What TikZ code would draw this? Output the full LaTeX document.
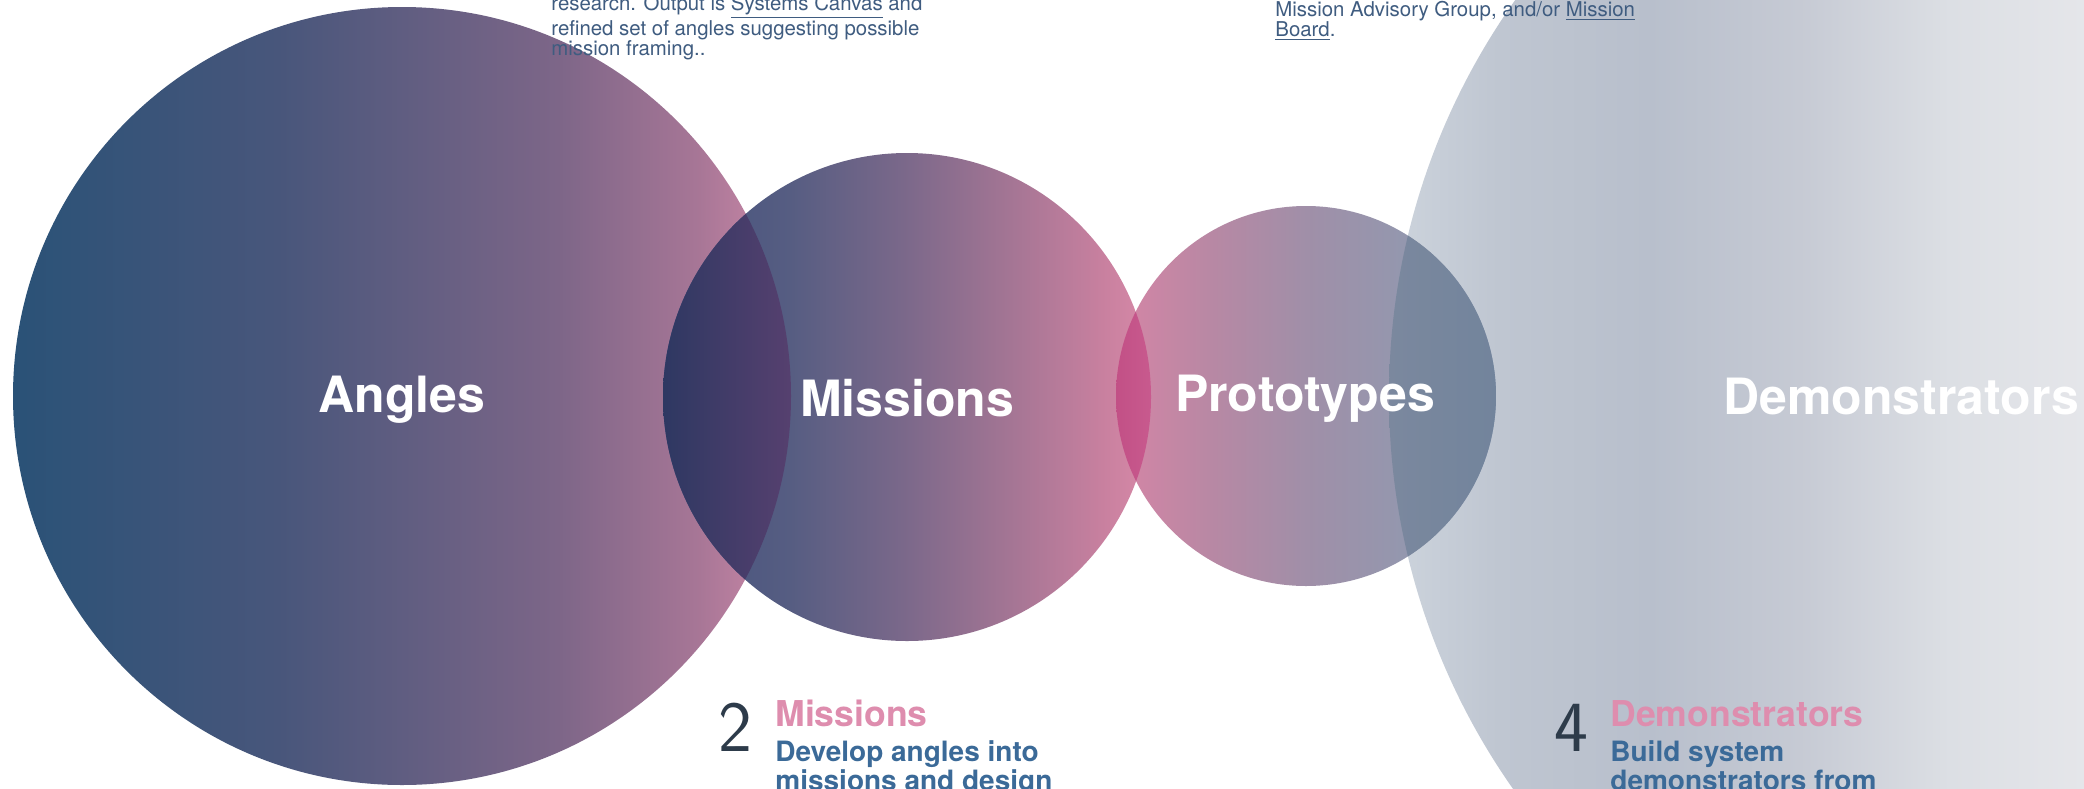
\documentclass[tikz,border=0pt]{standalone}
\usepackage{fontspec}
\setmainfont{TeX Gyre Heros}
\usepackage{tikz}

% colours
\definecolor{inkblue}{HTML}{3F5C80}
\definecolor{headpink}{HTML}{DE8DAE}
\definecolor{bodyblue}{HTML}{3B6A98}
\definecolor{numgrey}{HTML}{2D3B4A}
\definecolor{angA}{HTML}{2A5277}
\definecolor{angB}{HTML}{48567B}
\definecolor{angC}{HTML}{7D6688}
\definecolor{angD}{HTML}{A77696}
\definecolor{angE}{HTML}{CF8AA9}
\definecolor{misA}{HTML}{43527D}
\definecolor{misB}{HTML}{565D82}
\definecolor{misC}{HTML}{7A688A}
\definecolor{misD}{HTML}{A07493}
\definecolor{misE}{HTML}{C8809F}
\definecolor{misF}{HTML}{D88AA8}
\definecolor{proA}{HTML}{D585A5}
\definecolor{proB}{HTML}{B888A4}
\definecolor{proC}{HTML}{A08FA8}
\definecolor{proD}{HTML}{9497AE}
\definecolor{proE}{HTML}{8A9AB2}
\definecolor{demA}{HTML}{CDD4DD}
\definecolor{demB}{HTML}{BFC6D1}
\definecolor{demC}{HTML}{B8BFCC}
\definecolor{demD}{HTML}{C6CAD4}
\definecolor{demE}{HTML}{DCDFE4}
\definecolor{demF}{HTML}{E5E6EA}
\definecolor{demG}{HTML}{E9EAED}
% overlap colours
\definecolor{amA}{HTML}{2E3862}
\definecolor{amB}{HTML}{56406F}
\definecolor{mpA}{HTML}{C25086}
\definecolor{mpB}{HTML}{C85A8E}
\definecolor{pdA}{HTML}{7B889E}
\definecolor{pdB}{HTML}{72849C}

\pgfdeclarehorizontalshading{angshade}{100bp}{color(0bp)=(angA); color(25bp)=(angA); color(42bp)=(angB); color(60bp)=(angC); color(69bp)=(angD); color(75bp)=(angE); color(100bp)=(angE)}
\pgfdeclarehorizontalshading{misshade}{100bp}{color(0bp)=(misA); color(25bp)=(misA); color(38bp)=(misB); color(49.5bp)=(misC); color(59.5bp)=(misD); color(70bp)=(misE); color(75bp)=(misF); color(100bp)=(misF)}
\pgfdeclarehorizontalshading{proshade}{100bp}{color(0bp)=(proA); color(25bp)=(proA); color(37.5bp)=(proB); color(50bp)=(proC); color(62.5bp)=(proD); color(75bp)=(proE); color(100bp)=(proE)}
\pgfdeclarehorizontalshading{demshade}{100bp}{color(0bp)=(demA); color(25bp)=(demA); color(29bp)=(demB); color(34.5bp)=(demC); color(40bp)=(demD); color(45.5bp)=(demE); color(50.5bp)=(demF); color(75bp)=(demG); color(100bp)=(demG)}

\begin{document}
\begin{tikzpicture}[
  x=0.5pt, y=-0.5pt,
  bubblelabel/.style={text=white,font=\fontsize{25}{30}\selectfont\bfseries,inner sep=0pt,anchor=base},
  notetext/.style={text=inkblue,font=\fontsize{10.2}{9.8}\selectfont,align=left,inner sep=0pt,anchor=base west},
  stepnum/.style={text=numgrey,font=\sffamily\fontsize{36}{40}\selectfont,inner sep=0pt,anchor=base west},
  stephead/.style={text=headpink,font=\fontsize{17.8}{20}\selectfont\bfseries,inner sep=0pt,anchor=base west},
  stepbody/.style={text=bodyblue,font=\fontsize{14}{14.5}\selectfont\bfseries,align=left,inner sep=0pt,anchor=base west}
]
\useasboundingbox (0,0) rectangle (2084,788);
\fill[white] (0,0) rectangle (2084,788);

\coordinate (angles) at (402,396);
\coordinate (missions) at (907,397);
\coordinate (prototypes) at (1306,396);
\coordinate (demos) at (2073,396);

\begin{scope}
\clip (0,0) rectangle (2084,788);
\shade[shading=demshade] (demos) circle (684);
\shade[shading=angshade] (angles) circle (389);
\shade[shading=misshade] (missions) circle (244);
\shade[shading=proshade] (prototypes) circle (190);
% overlaps
\begin{scope}
\clip (angles) circle (389);
\clip (missions) circle (244);
\shade[left color=amA, right color=amB] (663,140) rectangle (791,660);
\end{scope}
\begin{scope}
\clip (missions) circle (244);
\clip (prototypes) circle (190);
\shade[left color=mpA, right color=mpB] (1116,200) rectangle (1151,600);
\end{scope}
\begin{scope}
\clip (prototypes) circle (190);
\clip (demos) circle (684);
\shade[left color=pdA, right color=pdB] (1389,200) rectangle (1497,600);
\end{scope}
\end{scope}

% labels
\node[bubblelabel] (angleslabel) at (402,412) {Angles};
\node[bubblelabel] (missionslabel) at (907,416) {Missions};
\node[bubblelabel] (prototypeslabel) at (1305,411) {Prototypes};
\node[bubblelabel] (demoslabel) at (1901,414) {Demonstrators};

% notes at the top (anchored on the last line)
\node[notetext] (canvasnote) at (551,55) {research. Output is \underline{Systems Canvas} and\\refined set of angles suggesting possible\\mission framing..};
\node[notetext] (boardnote) at (1275,36) {Mission Advisory Group, and/or \underline{Mission}\\\underline{Board}.};

% steps at the bottom
\node[stepnum] (twonum) at (718,751) {2};
\node[stephead] (twohead) at (775,726) {Missions};
\node[stepbody] (twobody) at (775,790) {Develop angles into\\missions and design};
\node[stepnum] (fournum) at (1554,751) {4};
\node[stephead] (fourhead) at (1610,726) {Demonstrators};
\node[stepbody] (fourbody) at (1610,790) {Build system\\demonstrators from};
\end{tikzpicture}
\end{document}
